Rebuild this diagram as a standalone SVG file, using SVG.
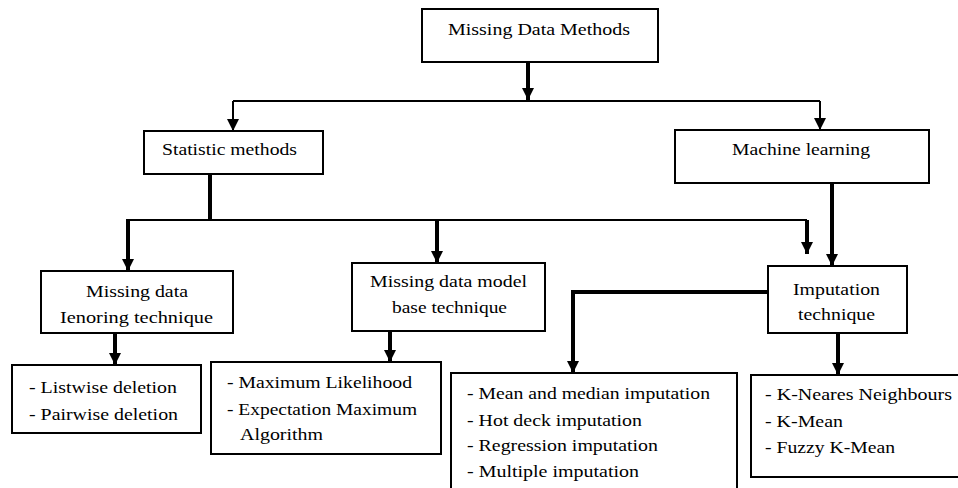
<svg xmlns="http://www.w3.org/2000/svg" width="958" height="488" viewBox="0 0 958 488">
<style>
.box{fill:#fff;stroke:#000;stroke-width:2}
.thin{fill:none;stroke:#000;stroke-width:2}
.thick{fill:none;stroke:#000;stroke-width:4}
</style>
<defs>
<marker id="ah" markerUnits="userSpaceOnUse" markerWidth="14" markerHeight="14" viewBox="0 0 14 14" refX="13" refY="7" orient="auto">
<path d="M1,1 L13,7 L1,13 Z" fill="#000"/>
</marker>
</defs>
<g id="connectors">
<path class="thick" d="M528,62 V100" marker-end="url(#ah)"/>
<path class="thin" d="M233,101 H820"/>
<path class="thin" d="M233,101 V131" marker-end="url(#ah)"/>
<path class="thin" d="M820,101 V130" marker-end="url(#ah)"/>
<path class="thick" d="M210,174 V220"/>
<path class="thin" d="M128,220 H807"/>
<path class="thick" d="M128,219 V271" marker-end="url(#ah)"/>
<path class="thick" d="M437,220 V263" marker-end="url(#ah)"/>
<path class="thick" d="M807,220 V254" marker-end="url(#ah)"/>
<path class="thick" d="M832,183 V266" marker-end="url(#ah)"/>
<path class="thick" d="M768,292 H573 V373" marker-end="url(#ah)"/>
<path class="thick" d="M115,333 V365" marker-end="url(#ah)"/>
<path class="thick" d="M390,331 V362" marker-end="url(#ah)"/>
<path class="thick" d="M838,333 V375" marker-end="url(#ah)"/>
</g>
<g font-family="Liberation Serif, Times New Roman, DejaVu Serif, serif" font-size="17" fill="#000">
<g id="n-root">
<rect class="box" x="422" y="9" width="236" height="53"/>
<text x="448" y="35" textLength="182" lengthAdjust="spacingAndGlyphs">Missing Data Methods</text>
</g>
<g id="n-stat">
<rect class="box" x="144" y="131" width="179" height="43"/>
<text x="162" y="155" textLength="135" lengthAdjust="spacingAndGlyphs">Statistic methods</text>
</g>
<g id="n-ml">
<rect class="box" x="675" y="130" width="254" height="53"/>
<text x="732" y="155" textLength="138" lengthAdjust="spacingAndGlyphs">Machine learning</text>
</g>
<g id="n-ignore">
<rect class="box" x="41" y="271" width="192" height="62"/>
<text x="86" y="297" textLength="102" lengthAdjust="spacingAndGlyphs">Missing data</text>
<text x="60" y="323" textLength="153" lengthAdjust="spacingAndGlyphs">Ienoring  technique</text>
</g>
<g id="n-model">
<rect class="box" x="352" y="263" width="193" height="68"/>
<text x="370" y="287" textLength="157" lengthAdjust="spacingAndGlyphs">Missing data model</text>
<text x="392" y="313" textLength="115" lengthAdjust="spacingAndGlyphs">base technique</text>
</g>
<g id="n-imp">
<rect class="box" x="768" y="266" width="139" height="67"/>
<text x="793" y="295" textLength="87" lengthAdjust="spacingAndGlyphs">Imputation</text>
<text x="798" y="320" textLength="77" lengthAdjust="spacingAndGlyphs">technique</text>
</g>
<g id="n-del">
<rect class="box" x="12" y="365" width="189" height="68"/>
<text x="29" y="393" textLength="148" lengthAdjust="spacingAndGlyphs">- Listwise deletion</text>
<text x="29" y="420" textLength="149" lengthAdjust="spacingAndGlyphs">- Pairwise deletion</text>
</g>
<g id="n-ml-list">
<rect class="box" x="211" y="362" width="230" height="92"/>
<text x="227" y="388" textLength="185" lengthAdjust="spacingAndGlyphs">- Maximum Likelihood</text>
<text x="227" y="415" textLength="190" lengthAdjust="spacingAndGlyphs">- Expectation Maximum</text>
<text x="240" y="440" textLength="83" lengthAdjust="spacingAndGlyphs">Algorithm</text>
</g>
<g id="n-mean">
<rect class="box" x="451" y="373" width="286" height="130"/>
<text x="467" y="399" textLength="243" lengthAdjust="spacingAndGlyphs">- Mean and median imputation</text>
<text x="467" y="426" textLength="175" lengthAdjust="spacingAndGlyphs">- Hot deck imputation</text>
<text x="467" y="451" textLength="191" lengthAdjust="spacingAndGlyphs">- Regression imputation</text>
<text x="467" y="477" textLength="172" lengthAdjust="spacingAndGlyphs">- Multiple imputation</text>
</g>
<g id="n-knn">
<rect class="box" x="751" y="375" width="215" height="102"/>
<text x="765" y="400" textLength="187" lengthAdjust="spacingAndGlyphs">- K-Neares Neighbours</text>
<text x="765" y="427" textLength="78" lengthAdjust="spacingAndGlyphs">- K-Mean</text>
<text x="765" y="453" textLength="130" lengthAdjust="spacingAndGlyphs">- Fuzzy K-Mean</text>
</g>
</g>
</svg>
